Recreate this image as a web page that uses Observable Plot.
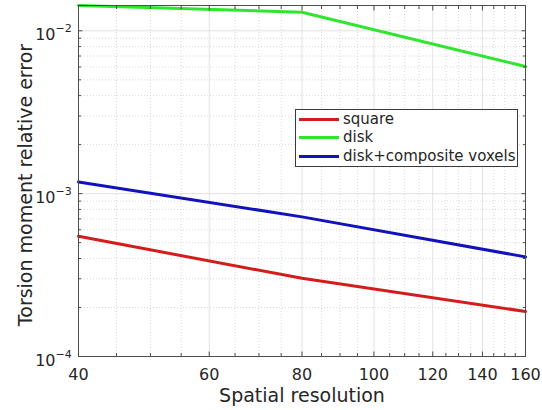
<!DOCTYPE html>
<html><head><meta charset="utf-8">
<script src="https://cdn.jsdelivr.net/npm/d3@7"></script>
<script src="https://cdn.jsdelivr.net/npm/@observablehq/plot@0.6"></script>
<style>
body{margin:0;background:#fff;font-family:"DejaVu Sans",sans-serif;}
#wrap{position:relative;width:542px;height:410px;}
.legend{position:absolute;left:295px;top:109px;width:223px;height:58px;border:1px solid #3a3a3a;background:#fff;box-sizing:border-box;}
.row{position:absolute;left:0;height:18px;display:flex;align-items:center;white-space:nowrap;}
.sw{width:40px;height:3px;margin-left:3px;margin-right:4px;}
.lbl{font-size:15px;color:#262626;line-height:18px;}
</style></head>
<body><div id="wrap"></div>
<script>
const resolutions = [40, 80, 160];
const seriesNames = ["square", "disk", "disk+composite voxels"];
const seriesColors = ["#d41c1c", "#2ee62e", "#1212bd"];
const squareErr = [5.47e-4, 3.02e-4, 1.89e-4];
const diskErr = [1.43e-2, 1.30e-2, 6.03e-3];
const compositeErr = [1.18e-3, 7.2e-4, 4.09e-4];
const xMajorTicks = [40, 60, 80, 100, 120, 140, 160];
const xMinorTicks = [45, 50, 55, 65, 70, 75, 85, 90, 95, 105, 110, 115, 125, 130, 135, 145, 150, 155];
const yMajorTicks = [1e-4, 1e-3, 1e-2];
const yExponents = ["−4", "−3", "−2"];
const yMinorTicks = [2e-4, 3e-4, 4e-4, 5e-4, 6e-4, 7e-4, 8e-4, 9e-4, 2e-3, 3e-3, 4e-3, 5e-3, 6e-3, 7e-3, 8e-3, 9e-3];
const xLabel = "Spatial resolution";
const yLabel = "Torsion moment relative error";

const seriesValues = [squareErr, diskErr, compositeErr];
const rows = seriesNames.flatMap((name, s) => resolutions.map((r, i) => ({series: name, res: r, err: seriesValues[s][i]})));

const axisColor = "#4d4d4d";
const textColor = "#262626";

const plot = Plot.plot({
  width: 542, height: 410,
  marginLeft: 78, marginRight: 17, marginTop: 5, marginBottom: 54,
  style: {fontFamily: "DejaVu Sans", color: textColor, background: "transparent"},
  x: {type: "log", domain: [40, 160]},
  y: {type: "log", domain: [1e-4, d3.max(diskErr)]},
  color: {domain: seriesNames, range: seriesColors},
  marks: [
    Plot.ruleX(xMinorTicks, {stroke: "#cfcfcf", strokeDasharray: "1,2", strokeWidth: 0.8}),
    Plot.ruleY(yMinorTicks, {stroke: "#cfcfcf", strokeDasharray: "1,2", strokeWidth: 0.8}),
    Plot.ruleX(xMajorTicks.slice(1, -1), {stroke: "#e2e2e2"}),
    Plot.ruleY(yMajorTicks.slice(1), {stroke: "#e2e2e2"}),
    Plot.line(rows, {x: "res", y: "err", stroke: "series", z: "series", strokeWidth: 3}),
    Plot.frame({stroke: axisColor}),
    Plot.axisX(xMajorTicks, {anchor: "bottom", tickSize: -4.5, tickFormat: () => "", label: null, stroke: axisColor}),
    Plot.axisX(xMajorTicks, {anchor: "top", tickSize: -4.5, tickFormat: () => "", label: null, stroke: axisColor}),
    Plot.axisX(xMinorTicks, {anchor: "bottom", tickSize: -3, tickFormat: () => "", label: null, stroke: axisColor}),
    Plot.axisX(xMinorTicks, {anchor: "top", tickSize: -3, tickFormat: () => "", label: null, stroke: axisColor}),
    Plot.axisY(yMajorTicks, {anchor: "left", tickSize: -4.5, tickFormat: () => "", label: null, stroke: axisColor}),
    Plot.axisY(yMajorTicks, {anchor: "right", tickSize: -4.5, tickFormat: () => "", label: null, stroke: axisColor}),
    Plot.axisY(yMinorTicks, {anchor: "left", tickSize: -3, tickFormat: () => "", label: null, stroke: axisColor}),
    Plot.axisY(yMinorTicks, {anchor: "right", tickSize: -3, tickFormat: () => "", label: null, stroke: axisColor}),
    Plot.text(xMajorTicks, {x: d => d, frameAnchor: "bottom", dy: 18, lineAnchor: "middle", fontSize: 16, text: d => String(d), fill: textColor}),
    Plot.text(yMajorTicks, {y: d => d, frameAnchor: "left", dx: -23, dy: 4, textAnchor: "end", lineAnchor: "middle", fontSize: 16, text: () => "10", fill: textColor}),
    Plot.text(yMajorTicks, {y: d => d, frameAnchor: "left", dx: -23, dy: -2, textAnchor: "start", lineAnchor: "middle", fontSize: 11, text: (d, i) => yExponents[i], fill: textColor}),
    Plot.text([xLabel], {frameAnchor: "bottom", dy: 39, textAnchor: "middle", lineAnchor: "middle", fontSize: 19, fill: textColor}),
    Plot.text([yLabel], {frameAnchor: "left", dx: -53, dy: 4, rotate: -90, textAnchor: "middle", lineAnchor: "middle", fontSize: 19, fill: textColor})
  ]
});

const wrap = document.getElementById("wrap");
wrap.appendChild(plot);

const legend = document.createElement("div");
legend.className = "legend";
const rowTops = [0, 18, 37];
seriesNames.forEach((name, i) => {
  const row = document.createElement("div");
  row.className = "row";
  row.style.top = rowTops[i] + "px";
  const sw = document.createElement("div");
  sw.className = "sw";
  sw.style.background = seriesColors[i];
  const lbl = document.createElement("span");
  lbl.className = "lbl";
  lbl.textContent = name;
  row.appendChild(sw);
  row.appendChild(lbl);
  legend.appendChild(row);
});
wrap.appendChild(legend);
</script>
</body></html>
